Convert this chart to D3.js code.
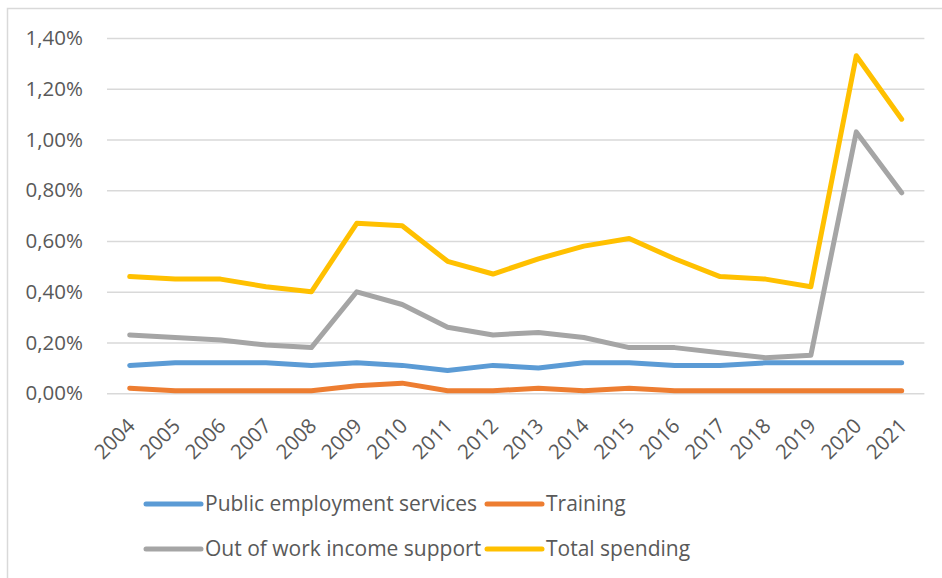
<!DOCTYPE html>
<html>
<head>
<meta charset="utf-8">
<script src="https://cdn.jsdelivr.net/npm/d3@7/dist/d3.min.js"></script>
<style>
  html, body { margin: 0; padding: 0; background: #fff; }
  svg { display: block; }
  text { font-family: "Open Sans", "Liberation Sans", sans-serif; fill: #595959; }
</style>
</head>
<body>
<svg id="chart" width="942" height="578"></svg>
<script>
// Labour market policy spending, share of GDP
const years = ["2004","2005","2006","2007","2008","2009","2010","2011","2012",
               "2013","2014","2015","2016","2017","2018","2019","2020","2021"];
const publicEmploymentServices = [0.0011,0.0012,0.0012,0.0012,0.0011,0.0012,0.0011,0.0009,0.0011,
                                  0.0010,0.0012,0.0012,0.0011,0.0011,0.0012,0.0012,0.0012,0.0012];
const training = [0.0002,0.0001,0.0001,0.0001,0.0001,0.0003,0.0004,0.0001,0.0001,
                  0.0002,0.0001,0.0002,0.0001,0.0001,0.0001,0.0001,0.0001,0.0001];
const outOfWorkIncomeSupport = [0.0023,0.0022,0.0021,0.0019,0.0018,0.0040,0.0035,0.0026,0.0023,
                                0.0024,0.0022,0.0018,0.0018,0.0016,0.0014,0.0015,0.0103,0.0079];
const totalSpending = [0.0046,0.0045,0.0045,0.0042,0.0040,0.0067,0.0066,0.0052,0.0047,
                       0.0053,0.0058,0.0061,0.0053,0.0046,0.0045,0.0042,0.0133,0.0108];
const yTicks = [0, 0.002, 0.004, 0.006, 0.008, 0.010, 0.012, 0.014];

const series = [
  { name: "Public employment services", values: publicEmploymentServices, color: "#5B9BD5" },
  { name: "Training", values: training, color: "#ED7D31" },
  { name: "Out of work income support", values: outOfWorkIncomeSupport, color: "#A5A5A5" },
  { name: "Total spending", values: totalSpending, color: "#FFC000" }
];

const svg = d3.select("#chart");

// outer chart frame (left and top edges visible)
svg.append("path")
  .attr("d", "M7.5,578 V8.5 H942")
  .attr("fill", "none")
  .attr("stroke", "#d9d9d9")
  .attr("stroke-width", 1.5);

const plot = { left: 107, right: 924.4, top: 38, bottom: 393.3 };

const x = d3.scalePoint().domain(years).range([plot.left, plot.right]).padding(0.5);
const y = d3.scaleLinear().domain([0, 0.014]).range([plot.bottom, plot.top]);

const pct = v => (v * 100).toFixed(2).replace(".", ",") + "%";

// horizontal gridlines + y labels
const yAxis = d3.axisLeft(y).tickValues(yTicks).tickFormat(pct)
  .tickSize(-(plot.right - plot.left)).tickPadding(24);
const gy = svg.append("g").attr("transform", `translate(${plot.left},0)`).call(yAxis);
gy.select(".domain").remove();
gy.selectAll(".tick line").attr("stroke", "#d9d9d9").attr("stroke-width", 1.5);
gy.selectAll(".tick text").attr("font-size", 20.5).attr("fill", "#595959")
  .attr("font-family", "\"Open Sans\", sans-serif");

// x labels, rotated
const xAxis = d3.axisBottom(x).tickSize(0).tickPadding(0);
const gx = svg.append("g").attr("transform", `translate(0,${plot.bottom})`).call(xAxis);
gx.select(".domain").remove();
gx.selectAll(".tick text")
  .attr("font-size", 20.5).attr("fill", "#595959")
  .attr("font-family", "\"Open Sans\", sans-serif")
  .attr("text-anchor", "end")
  .attr("dy", 0)
  .attr("y", 0)
  .attr("transform", "translate(6,34) rotate(-45)");

// series lines
const line = d3.line().x((d, i) => x(years[i])).y(d => y(d));
svg.append("g").selectAll("path").data(series).join("path")
  .attr("d", s => line(s.values))
  .attr("fill", "none")
  .attr("stroke", s => s.color)
  .attr("stroke-width", 5)
  .attr("stroke-linecap", "round")
  .attr("stroke-linejoin", "round");

// legend, two rows of two
const legendPos = [[146, 504], [487, 504], [146, 549], [487, 549]];
const lg = svg.append("g").selectAll("g").data(series).join("g")
  .attr("transform", (d, i) => `translate(${legendPos[i][0]},${legendPos[i][1]})`);
lg.append("line").attr("x1", 0).attr("x2", 55).attr("y1", 0).attr("y2", 0)
  .attr("stroke", d => d.color).attr("stroke-width", 5).attr("stroke-linecap", "round");
lg.append("text").attr("x", 59).attr("y", 0).attr("dy", "0.35em")
  .attr("font-size", 21).text(d => d.name);
</script>
</body>
</html>
